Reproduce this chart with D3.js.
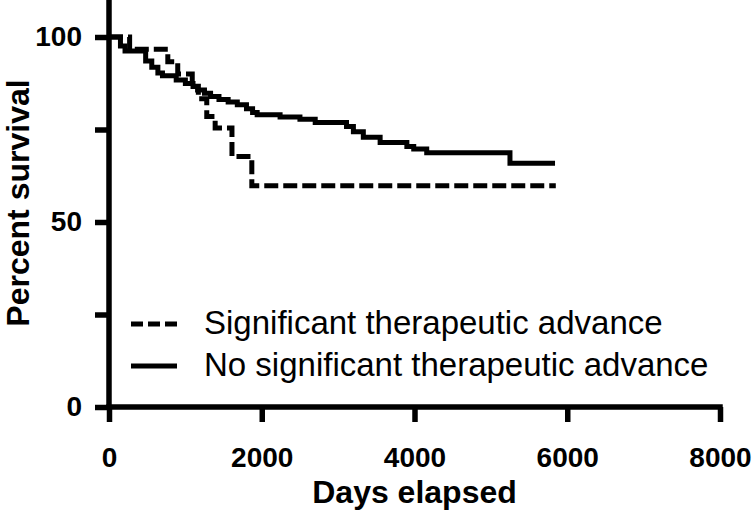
<!DOCTYPE html>
<html>
<head>
<meta charset="utf-8">
<script src="https://cdn.jsdelivr.net/npm/d3@7"></script>
<style>
  body { margin: 0; background: #fff; }
  svg { display: block; }
  text { font-family: "Liberation Sans", Arial, sans-serif; fill: #000; }
</style>
</head>
<body>
<svg id="chart" width="754" height="512"></svg>
<script>
// series: [day, percent surviving], step after each point
var significant = [
  [0, 100], [270, 96.7], [770, 93.3], [900, 90], [1090, 86.7], [1170, 83.3],
  [1280, 78.5], [1390, 75.4], [1610, 67.7], [1870, 59.8], [5850, 59.8]
];
var noSignificant = [
  [0, 100], [150, 97.6], [210, 96.2], [480, 93.5], [560, 91.8], [640, 90.3],
  [700, 89.5], [880, 88.4], [1000, 87.4], [1100, 86.6], [1160, 85.7], [1250, 84.8],
  [1330, 83.9], [1440, 83.1], [1560, 82.4], [1680, 81.7], [1800, 80.6], [1880, 79.6],
  [1940, 79], [2240, 78.4], [2500, 77.8], [2700, 76.9], [3110, 75.8], [3200, 74.4],
  [3330, 72.9], [3550, 71.5], [3900, 70.4], [3990, 69.7], [4160, 68.7], [5250, 65.9],
  [5840, 65.9]
];
var seriesNames = ["Significant therapeutic advance", "No significant therapeutic advance"];
var xTicks = [0, 2000, 4000, 6000, 8000];
var yTicks = [0, 25, 50, 75, 100];
var yLabelled = [0, 50, 100];

var svg = d3.select("#chart");

var x = d3.scaleLinear().domain([0, 8000]).range([109, 720]);
var y = d3.scaleLinear().domain([0, 110]).range([407, 0]);

// axes
var xAxis = d3.axisBottom(x).tickValues(xTicks).tickSize(15).tickPadding(25)
  .tickFormat(d3.format("d"));
var yAxis = d3.axisLeft(y).tickValues(yTicks).tickSize(14).tickPadding(13)
  .tickFormat(function(d) { return yLabelled.indexOf(d) >= 0 ? d : ""; });

var gx = svg.append("g").attr("transform", "translate(0," + y(0) + ")").call(xAxis);
var gy = svg.append("g").attr("transform", "translate(" + x(0) + ",0)").call(yAxis);

[gx, gy].forEach(function(g) {
  g.select(".domain").attr("stroke", "#000").attr("stroke-width", 5.5)
    .attr("stroke-linecap", "square");
  g.selectAll(".tick line").attr("stroke", "#000").attr("stroke-width", 5.5);
  g.selectAll(".tick text").attr("font-size", 28).attr("font-weight", "bold")
    .attr("font-family", "Liberation Sans, Arial, sans-serif").attr("fill", "#000");
});
gx.select(".domain").attr("d", "M" + x(0) + ",0H" + x(8000));
gy.select(".domain").attr("d", "M0," + y(0) + "V" + y(110));

// axis titles
svg.append("text")
  .attr("x", x(4000)).attr("y", 503)
  .attr("text-anchor", "middle")
  .attr("font-size", 32).attr("font-weight", "bold")
  .text("Days elapsed");

svg.append("text")
  .attr("transform", "translate(29,203) rotate(-90)")
  .attr("text-anchor", "middle")
  .attr("font-size", 32).attr("font-weight", "bold")
  .text("Percent survival");

// curves
var line = d3.line()
  .x(function(d) { return x(d[0]); })
  .y(function(d) { return y(d[1]); })
  .curve(d3.curveStepAfter);

svg.append("path").datum(noSignificant)
  .attr("d", line).attr("fill", "none")
  .attr("stroke", "#000").attr("stroke-width", 5);

svg.append("path").datum(significant)
  .attr("d", line).attr("fill", "none")
  .attr("stroke", "#000").attr("stroke-width", 5)
  .attr("stroke-dasharray", "14,5");

// legend
var legend = svg.append("g");
var legendRows = [
  { name: seriesNames[0], dash: "12,5", y: 324 },
  { name: seriesNames[1], dash: null, y: 366 }
];
legendRows.forEach(function(r) {
  legend.append("line")
    .attr("x1", 131).attr("x2", 177).attr("y1", r.y).attr("y2", r.y)
    .attr("stroke", "#000").attr("stroke-width", 5)
    .attr("stroke-dasharray", r.dash);
  legend.append("text")
    .attr("x", 204).attr("y", r.y + 10)
    .attr("font-size", 33)
    .text(r.name);
});
</script>
</body>
</html>
